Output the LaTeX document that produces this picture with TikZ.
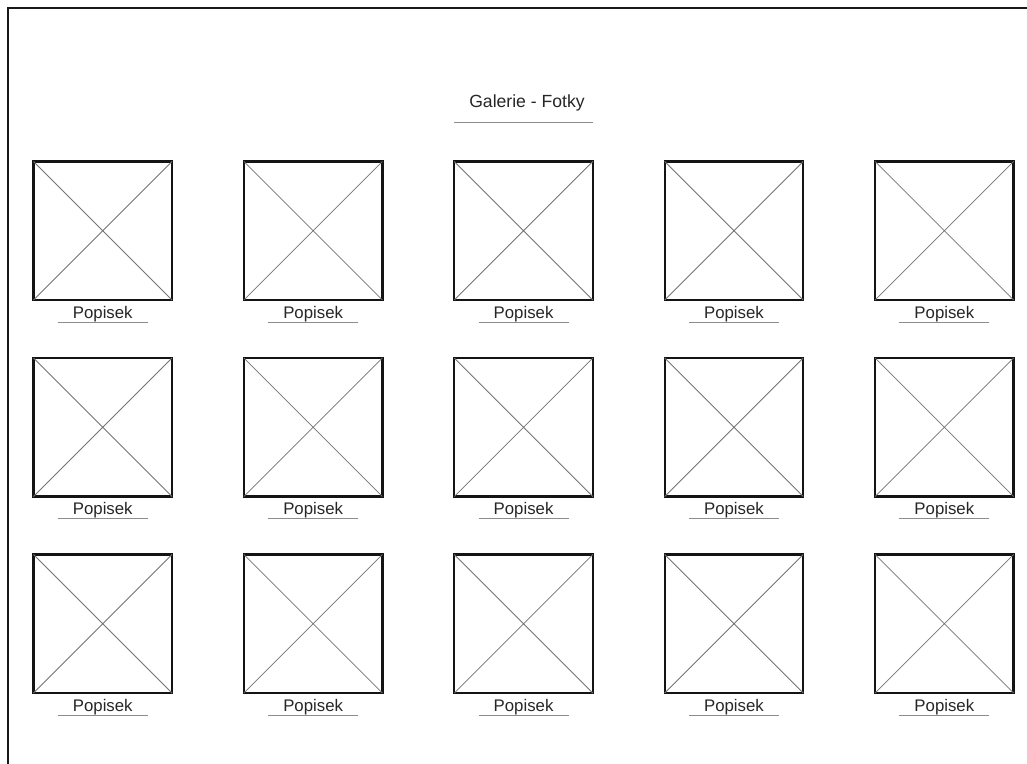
\documentclass[tikz,border=0pt]{standalone}
\usepackage{fontspec}
\setmainfont{Liberation Sans}
\begin{document}
\begin{tikzpicture}[x=1pt,y=-1pt,
  photo/.style={draw=black!92, line width=2.3pt, minimum size=138.5pt, inner sep=0pt, outer sep=0pt},
  cross/.style={draw=black!55, line width=0.8pt},
  caption/.style={font=\fontsize{16.8}{18}\selectfont, text=black!85, anchor=base, inner sep=0pt},
  rulel/.style={draw=black!45, line width=1pt},
  frame/.style={draw=black!90, line width=2pt}]
\useasboundingbox (0,0) rectangle (1027,763);
\clip (0,0) rectangle (1027,763);
\coordinate (fr1) at (1040,8);
\coordinate (fr2) at (7.5,8);
\coordinate (fr3) at (7.5,780);
\draw[frame] (fr1) -- (fr2) -- (fr3);
\foreach \r in {0,1,2} {
  \foreach \c in {0,...,4} {
    \pgfmathsetmacro\cx{102.75+210.4*\c}
    \pgfmathsetmacro\cy{230.75+196.5*\r}
    \node[photo] (p\r\c) at (\cx,\cy) {};
    \draw[cross] (p\r\c.north west) -- (p\r\c.south east)
                 (p\r\c.north east) -- (p\r\c.south west);
    \node[caption] (c\r\c) at ([yshift=-18.3pt]p\r\c.south) {Popisek};
    \coordinate (ua\r\c) at ([xshift=-45pt,yshift=-22pt]p\r\c.south);
    \coordinate (ub\r\c) at ([xshift=45pt,yshift=-22pt]p\r\c.south);
    \draw[rulel] (ua\r\c) -- (ub\r\c);
  }
}
\node[caption, font=\fontsize{17.6}{19}\selectfont] (title) at (527,107.5) {Galerie - Fotky};
\coordinate (ta) at ([yshift=-14.5pt]title.base -| p02.west);
\coordinate (tb) at ([yshift=-14.5pt]title.base -| p02.east);
\draw[rulel] (ta) -- (tb);
\end{tikzpicture}
\end{document}
